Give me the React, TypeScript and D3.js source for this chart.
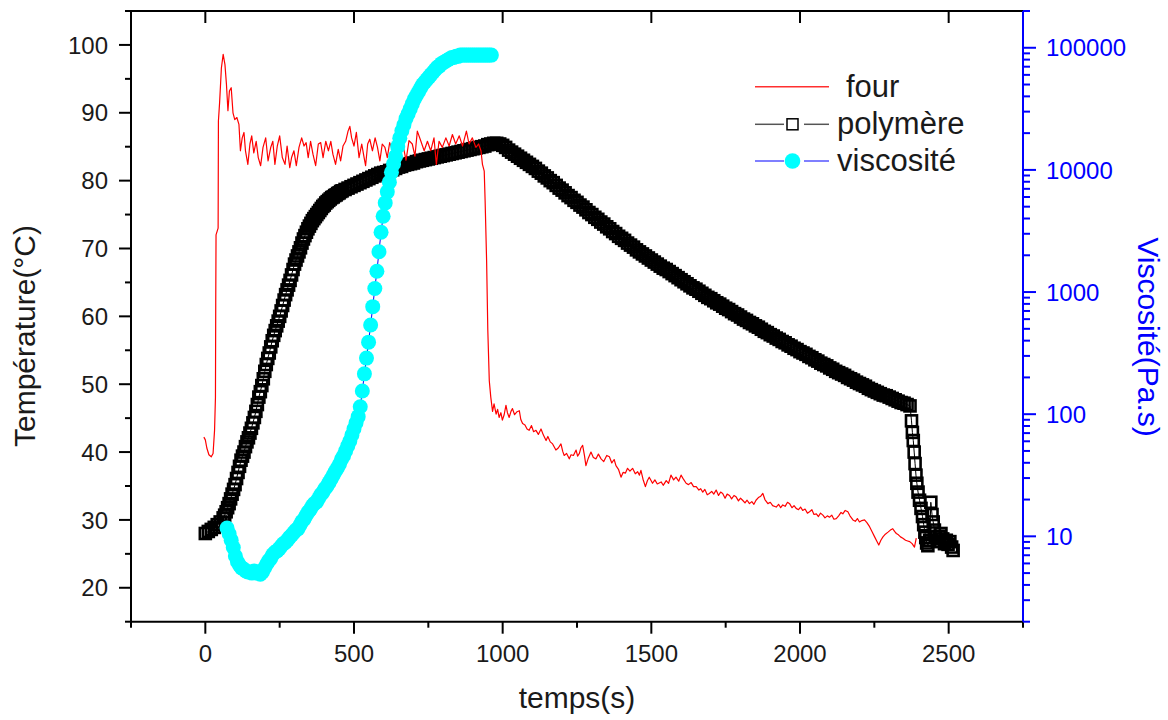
import React from 'react';
import * as d3 from 'd3';

const W = 1168;
const H = 720;
const FONT = "'Liberation Sans', Arial, sans-serif";

// ---------- axis definitions ----------
const xDomain = [-250, 2750];
const yLeftDomain = [15, 105];
const yRightDomain = [2, 200000];
const xMajor = [0, 500, 1000, 1500, 2000, 2500];
const yLeftMajor = [20, 30, 40, 50, 60, 70, 80, 90, 100];
const yRightMajor = [10, 100, 1000, 10000, 100000];
const yRightLabels = ['10', '100', '1000', '10000', '100000'];

// ---------- four (oven) temperature ----------
const fourTime = [
  -5, 0, 5, 12, 20, 26, 31, 34, 35, 36, 43, 44, 48, 54, 60, 66, 71, 76, 81, 87,
  93, 99, 106, 113, 118, 124, 130, 135, 143, 150, 156, 163, 171, 178, 186, 194, 203, 211, 220, 227,
  234, 242, 250, 259, 268, 275, 284, 290, 298, 306, 315, 324, 332, 339, 346, 354, 362, 371, 380, 388,
  396, 405, 414, 422, 429, 438, 447, 455, 463, 472, 480, 486, 492, 500, 508, 517, 526, 534, 539, 546,
  553, 562, 571, 579, 587, 595, 604, 612, 620, 629, 638, 646, 655, 665, 675, 685, 696, 705, 713, 725,
  736, 747, 758, 769, 777, 786, 797, 809, 820, 831, 842, 854, 865, 878, 887, 898, 910, 919, 927, 932,
  938, 941, 946, 950, 955, 960, 966, 971, 978, 983, 988, 994, 999, 1005, 1011, 1016, 1022, 1028, 1033, 1040,
  1047, 1056, 1061, 1067, 1075, 1082, 1089, 1097, 1104, 1112, 1120, 1129, 1137, 1146, 1152, 1160, 1168, 1174, 1179, 1187,
  1196, 1202, 1207, 1215, 1224, 1230, 1238, 1247, 1252, 1258, 1263, 1269, 1275, 1280, 1288, 1297, 1305, 1314, 1322, 1331,
  1340, 1350, 1359, 1367, 1375, 1381, 1390, 1398, 1405, 1413, 1420, 1428, 1437, 1446, 1454, 1460, 1465, 1472, 1480, 1487,
  1493, 1499, 1504, 1512, 1520, 1533, 1540, 1550, 1558, 1566, 1575, 1583, 1592, 1600, 1608, 1617, 1625, 1634, 1642, 1651,
  1660, 1666, 1673, 1680, 1688, 1695, 1703, 1710, 1718, 1726, 1733, 1740, 1748, 1755, 1763, 1770, 1778, 1785, 1793, 1800,
  1807, 1815, 1822, 1830, 1838, 1845, 1852, 1860, 1868, 1875, 1882, 1892, 1900, 1908, 1920, 1928, 1935, 1942, 1950, 1958,
  1965, 1973, 1980, 1987, 1995, 2002, 2009, 2017, 2025, 2032, 2040, 2047, 2055, 2062, 2069, 2077, 2084, 2092, 2099, 2107,
  2114, 2122, 2130, 2138, 2144, 2152, 2161, 2168, 2178, 2186, 2193, 2200, 2208, 2217, 2225, 2234, 2242, 2251, 2258, 2265,
  2272, 2279, 2287, 2296, 2304, 2312, 2318, 2324, 2331, 2338, 2346, 2355, 2362, 2369, 2377, 2385, 2391,
];
const fourTemp = [
  42.2, 41.8, 40.6, 39.6, 39.3, 39.8, 43.2, 48.0, 62.0, 72.0, 73.0, 88.8, 91.5, 96.6, 98.6, 97.1, 94.2, 90.3, 93.2, 93.7,
  90.0, 89.0, 89.3, 88.3, 84.4, 86.3, 87.1, 84.4, 82.4, 85.4, 86.6, 84.1, 85.8, 83.4, 82.2, 84.9, 86.3, 82.9, 84.9, 85.8,
  82.4, 85.1, 86.6, 83.4, 82.4, 85.1, 81.9, 83.4, 84.4, 82.2, 84.9, 86.3, 85.1, 85.6, 83.4, 85.8, 83.9, 82.2, 85.4, 85.6,
  83.4, 85.8, 84.4, 85.8, 83.9, 82.4, 84.6, 82.9, 85.1, 85.8, 87.3, 88.0, 86.3, 85.1, 87.1, 83.4, 85.4, 83.4, 82.2, 85.4,
  86.1, 84.4, 86.3, 84.9, 82.9, 85.4, 84.9, 83.4, 85.6, 84.6, 86.3, 87.3, 84.0, 85.2, 83.0, 85.9, 85.4, 83.6, 87.3, 85.8,
  84.4, 85.8, 84.4, 86.3, 82.4, 85.8, 84.9, 86.3, 85.1, 86.8, 85.4, 86.6, 85.1, 87.3, 85.4, 86.3, 84.9, 85.4, 84.4, 82.4,
  81.4, 77.0, 68.2, 58.0, 50.5, 48.1, 46.0, 47.1, 45.6, 46.3, 45.1, 45.8, 44.7, 45.5, 46.9, 45.8, 45.1, 46.0, 46.4, 45.5,
  45.9, 46.1, 44.8, 44.2, 44.0, 43.4, 43.2, 43.9, 43.0, 43.2, 42.6, 43.4, 42.5, 41.7, 42.3, 41.5, 41.2, 40.7, 40.3, 40.6,
  41.2, 40.1, 39.5, 39.8, 39.0, 39.6, 39.5, 40.3, 39.4, 39.8, 40.6, 41.0, 39.5, 38.0, 39.1, 40.0, 39.2, 39.0, 39.7, 39.0,
  38.6, 39.5, 39.3, 38.4, 38.9, 38.0, 37.4, 36.3, 37.0, 36.9, 37.6, 37.2, 37.6, 36.8, 37.1, 36.6, 37.3, 36.0, 34.9, 35.8,
  36.3, 35.8, 35.4, 35.9, 35.3, 35.6, 35.1, 35.8, 35.4, 36.6, 35.9, 36.3, 35.7, 36.6, 36.0, 35.4, 35.2, 35.5, 34.9, 34.9,
  34.4, 34.6, 34.1, 34.5, 33.7, 33.9, 34.2, 33.8, 34.4, 33.6, 34.1, 33.9, 33.2, 33.8, 33.6, 33.1, 33.6, 33.4, 32.8, 33.2,
  32.9, 32.5, 32.9, 32.4, 32.7, 32.3, 32.9, 33.3, 33.5, 33.9, 33.0, 32.4, 32.6, 32.1, 31.9, 32.3, 31.8, 32.2, 32.0, 32.6,
  32.4, 31.8, 32.1, 31.7, 31.5, 31.9, 31.4, 31.6, 31.0, 31.2, 31.5, 30.8, 30.9, 30.5, 31.0, 30.7, 30.3, 30.6, 30.4, 30.7,
  30.1, 30.2, 30.6, 31.1, 30.9, 31.4, 31.2, 30.6, 30.0, 29.8, 30.2, 29.7, 29.9, 30.0, 29.6, 29.0, 28.3, 27.5, 26.9, 26.3,
  27.0, 27.5, 27.9, 28.2, 28.5, 28.7, 28.3, 28.0, 27.8, 27.5, 27.3, 27.0, 26.9, 26.8, 26.5, 26.0, 27.3,
];

// ---------- polymère temperature ----------
// segment A: t = 0..50 every 10 s
const polyStartA = 0;
const polyStepA = 10;
const polyTempA = [28.0, 28.3, 28.6, 28.9, 29.3, 29.7];
// segment B: t = 60..455 every 5 s
const polyStartB = 60;
const polyStepB = 5;
const polyTempB = [
  30.3, 30.7, 31.2, 31.8, 32.4, 33.1, 33.8, 34.5, 35.2, 36.1,
  37.0, 37.9, 38.8, 39.4, 40.0, 40.8, 41.5, 42.1, 42.8, 43.5,
  44.3, 45.1, 46.0, 47.0, 48.1, 48.9, 49.8, 50.8, 51.9, 52.9,
  53.8, 54.6, 55.5, 56.4, 57.2, 57.9, 58.6, 59.3, 60.0, 60.8,
  61.6, 62.4, 63.2, 63.9, 64.6, 65.3, 66.1, 66.9, 67.7, 68.3,
  68.9, 69.5, 70.1, 70.8, 71.4, 71.9, 72.4, 72.9, 73.3, 73.7,
  74.1, 74.4, 74.7, 75.0, 75.3, 75.6, 75.9, 76.2, 76.4, 76.7,
  76.9, 77.1, 77.3, 77.5, 77.6, 77.8, 77.9, 78.1, 78.2, 78.4,
];
// segment C: t = 460..2370 every 10 s
const polyStartC = 460;
const polyStepC = 10;
const polyTempC = [
  78.5, 78.7, 78.9, 79.1, 79.3, 79.5, 79.7, 79.9, 80.1, 80.3,
  80.5, 80.7, 80.9, 81.1, 81.2, 81.3, 81.5, 81.6, 81.8, 82.0,
  82.1, 82.3, 82.4, 82.5, 82.6, 82.8, 82.9, 83.0, 83.1, 83.2,
  83.3, 83.4, 83.5, 83.6, 83.7, 83.8, 83.9, 84.0, 84.1, 84.2,
  84.3, 84.4, 84.5, 84.6, 84.7, 84.8, 84.9, 85.0, 85.1, 85.3,
  85.4, 85.5, 85.5, 85.4, 85.2, 84.9, 84.5, 84.2, 83.9, 83.6,
  83.3, 83.0, 82.7, 82.4, 82.1, 81.8, 81.4, 81.1, 80.7, 80.4,
  80.0, 79.7, 79.3, 78.9, 78.6, 78.2, 77.8, 77.5, 77.1, 76.8,
  76.4, 76.1, 75.7, 75.3, 75.0, 74.6, 74.3, 73.9, 73.6, 73.2,
  72.9, 72.5, 72.2, 71.8, 71.5, 71.2, 70.8, 70.5, 70.2, 69.8,
  69.5, 69.2, 68.9, 68.6, 68.3, 68.0, 67.7, 67.4, 67.1, 66.9,
  66.6, 66.3, 66.0, 65.7, 65.4, 65.1, 64.8, 64.5, 64.2, 64.0,
  63.7, 63.4, 63.1, 62.8, 62.6, 62.3, 62.0, 61.8, 61.5, 61.2,
  61.0, 60.7, 60.4, 60.2, 59.9, 59.6, 59.4, 59.1, 58.9, 58.6,
  58.4, 58.1, 57.8, 57.6, 57.3, 57.1, 56.8, 56.6, 56.3, 56.1,
  55.8, 55.6, 55.3, 55.1, 54.8, 54.6, 54.4, 54.1, 53.9, 53.6,
  53.4, 53.1, 52.9, 52.7, 52.4, 52.2, 51.9, 51.7, 51.5, 51.3,
  51.0, 50.8, 50.6, 50.3, 50.1, 49.9, 49.7, 49.4, 49.2, 49.0,
  48.8, 48.6, 48.4, 48.3, 48.1, 47.9, 47.7, 47.5, 47.3, 47.2,
  47.0, 46.8,
];
// segment D: scattered points after the sample is taken out
const polyTailTime = [
  2375, 2378, 2381, 2384, 2387, 2390, 2393, 2397, 2402, 2407, 2412, 2416, 2420, 2423, 2426, 2430,
  2436, 2440, 2444, 2448, 2452, 2456, 2462, 2468, 2474, 2480, 2486, 2492, 2498, 2504, 2510, 2515,
];
const polyTailTemp = [
  44.6, 42.9, 41.7, 40.0, 38.3, 36.6, 35.4, 34.1, 32.9, 31.7, 30.5, 29.3, 28.2, 27.4, 26.6, 26.2,
  27.0, 32.6, 30.8, 29.7, 28.5, 27.5, 26.8, 27.6, 28.0, 27.2, 26.5, 27.0, 26.4, 26.8, 26.0, 25.5,
];

// ---------- viscosité (Pa.s), sampled every 7 s from t = 73 s ----------
const viscStart = 73;
const viscStep = 7;
const viscValues = [
  11.7, 10.5, 9.3, 8.1, 6.9, 6.2, 5.8, 5.5, 5.4, 5.2,
  5.1, 5.1, 5.0, 5.2, 5.0, 5.1, 4.9, 5.1, 5.5, 5.9,
  6.3, 6.6, 7.1, 7.4, 7.6, 7.9, 8.3, 8.7, 8.9, 9.3,
  9.8, 10.2, 10.7, 11.2, 11.5, 12.3, 13.2, 13.8, 14.8, 15.8,
  16.6, 17.8, 18.6, 19.1, 20.4, 21.9, 22.9, 24.5, 25.7, 27.5,
  29.5, 31.6, 33.9, 36.3, 38.9, 42.7, 45.7, 50.1, 55.0, 60.3,
  67.6, 75.9, 85.1, 95.5,
  115, 155, 214, 288, 389, 537, 759, 1070, 1480, 2140,
  3090, 4170, 5370, 6610, 7940, 9550, 11200, 12900, 15500, 18200,
  20900, 23400, 26300, 28800, 31600, 34700, 38000, 40700, 43600, 46800,
  50100, 52500, 55000, 57500, 60300, 63100, 66100, 69200, 70800, 74100,
  75900, 77600, 79400, 81300, 83200, 83200, 85100, 85100,
  87100, 87100, 87100, 87100, 87100, 87100, 87100, 87100,
  87100, 87100, 87100, 87100, 87100, 87100, 87100, 87100,
];

const legendItems = ['four', 'polymère', 'viscosité'];

export default function App() {
  const L = 131, R = 1023, T = 11, B = 621.7;
  const x = d3.scaleLinear().domain(xDomain).range([L, R]);
  const yL = d3.scaleLinear().domain(yLeftDomain).range([B, T]);
  const yR = d3.scaleLog().domain(yRightDomain).range([B, T]);

  const fourData: [number, number][] = fourTime.map((t, i) => [t, fourTemp[i]]);
  const polyData: [number, number][] = [
    ...polyTempA.map((v, i) => [polyStartA + polyStepA * i, v] as [number, number]),
    ...polyTempB.map((v, i) => [polyStartB + polyStepB * i, v] as [number, number]),
    ...polyTempC.map((v, i) => [polyStartC + polyStepC * i, v] as [number, number]),
    ...polyTailTime.map((t, i) => [t, polyTailTemp[i]] as [number, number]),
  ];
  const viscData: [number, number][] = viscValues.map((v, i) => [viscStart + viscStep * i, v]);

  const lineL = d3.line<[number, number]>().x(d => x(d[0])).y(d => yL(d[1]));
  const lineR = d3.line<[number, number]>().x(d => x(d[0])).y(d => yR(d[1]));

  const xMinor = d3.range(xDomain[0], xDomain[1] + 1, 250).filter(v => !xMajor.includes(v));
  const yLeftMinor = d3.range(yLeftDomain[0], yLeftDomain[1] + 0.1, 5).filter(v => !yLeftMajor.includes(v));
  const yRightMinor: number[] = [];
  for (let e = 0; e <= 5; e++) {
    for (let m = 2; m <= 9; m++) {
      const v = m * Math.pow(10, e);
      if (v >= yRightDomain[0] && v <= yRightDomain[1]) yRightMinor.push(v);
    }
  }

  const sq = 11;
  const blue = '#0000ff';
  const tickColor = '#1a1a1a';

  return (
    <svg width={W} height={H} style={{ position: 'absolute', left: 0, top: 0, background: '#fff' }} fontFamily={FONT}>
      <rect x={0} y={0} width={W} height={H} fill="#fff" />

      {/* polymère */}
      <path d={lineL(polyData) || ''} fill="none" stroke="#000" strokeWidth={1} />
      {polyData.map((d, i) => (
        <rect key={'p' + i} x={x(d[0]) - sq / 2} y={yL(d[1]) - sq / 2} width={sq} height={sq}
          fill="none" stroke="#000" strokeWidth={2.6} />
      ))}

      {/* four */}
      <path d={lineL(fourData) || ''} fill="none" stroke="#ff0000" strokeWidth={1.2} strokeLinejoin="round" />

      {/* viscosité */}
      <path d={lineR(viscData) || ''} fill="none" stroke={blue} strokeWidth={1} />
      {viscData.map((d, i) => (
        <circle key={'v' + i} cx={x(d[0])} cy={yR(d[1])} r={7.5} fill="#00ffff" />
      ))}

      {/* frame */}
      <line x1={L} x2={R} y1={T} y2={T} stroke="#000" strokeWidth={2} />
      <line x1={L} x2={R} y1={B} y2={B} stroke="#000" strokeWidth={2} />
      <line x1={L} x2={L} y1={T} y2={B} stroke="#000" strokeWidth={2} />
      <line x1={R} x2={R} y1={T} y2={B} stroke={blue} strokeWidth={2} />

      {/* bottom axis */}
      {xMajor.map(v => (
        <g key={'xm' + v}>
          <line x1={x(v)} x2={x(v)} y1={B} y2={B + 12} stroke="#000" strokeWidth={2} />
          <line x1={x(v)} x2={x(v)} y1={T} y2={T + 12} stroke="#000" strokeWidth={2} />
          <text x={x(v)} y={662} textAnchor="middle" fontSize={24} fill={tickColor}>{v}</text>
        </g>
      ))}
      {xMinor.map(v => (
        <line key={'xn' + v} x1={x(v)} x2={x(v)} y1={B} y2={B + 6} stroke="#000" strokeWidth={2} />
      ))}

      {/* left axis */}
      {yLeftMajor.map(v => (
        <g key={'ylm' + v}>
          <line x1={L - 12} x2={L} y1={yL(v)} y2={yL(v)} stroke="#000" strokeWidth={2} />
          <text x={108} y={yL(v)} dy="0.36em" textAnchor="end" fontSize={24} fill={tickColor}>{v}</text>
        </g>
      ))}
      {yLeftMinor.map(v => (
        <line key={'yln' + v} x1={L - 6} x2={L} y1={yL(v)} y2={yL(v)} stroke="#000" strokeWidth={2} />
      ))}

      {/* right axis */}
      {yRightMajor.map((v, i) => (
        <g key={'yrm' + v}>
          <line x1={R} x2={R + 13} y1={yR(v)} y2={yR(v)} stroke={blue} strokeWidth={2} />
          <text x={1046} y={yR(v)} dy="0.36em" textAnchor="start" fontSize={24} fill={blue}>{yRightLabels[i]}</text>
        </g>
      ))}
      {yRightMinor.map(v => (
        <line key={'yrn' + v} x1={R} x2={R + 7} y1={yR(v)} y2={yR(v)} stroke={blue} strokeWidth={2} />
      ))}

      {/* axis titles */}
      <text x={577} y={708} textAnchor="middle" fontSize={30} fill={tickColor}>temps(s)</text>
      <text transform="translate(35,336) rotate(-90)" textAnchor="middle" fontSize={30} fill={tickColor}>Température(°C)</text>
      <text transform="translate(1138,337) rotate(90)" textAnchor="middle" fontSize={30} fill={blue}>Viscosité(Pa.s)</text>

      {/* legend */}
      <g>
        <line x1={755} x2={829} y1={86.7} y2={86.7} stroke="#ff3030" strokeWidth={1.5} />
        <text x={846} y={97} fontSize={31} fill={tickColor}>{legendItems[0]}</text>

        <line x1={755} x2={784} y1={124.3} y2={124.3} stroke="#555" strokeWidth={1.5} />
        <line x1={804} x2={829} y1={124.3} y2={124.3} stroke="#555" strokeWidth={1.5} />
        <rect x={792.5 - 5.5} y={124.3 - 5.5} width={11} height={11} fill="#fff" stroke="#000" strokeWidth={1.5} />
        <text x={837} y={134} fontSize={31} fill={tickColor}>{legendItems[1]}</text>

        <line x1={755} x2={784} y1={161} y2={161} stroke="#5555ff" strokeWidth={1.5} />
        <line x1={804} x2={829} y1={161} y2={161} stroke="#5555ff" strokeWidth={1.5} />
        <circle cx={792.5} cy={161} r={7.8} fill="#00ffff" />
        <text x={837} y={171} fontSize={31} fill={tickColor}>{legendItems[2]}</text>
      </g>
    </svg>
  );
}
